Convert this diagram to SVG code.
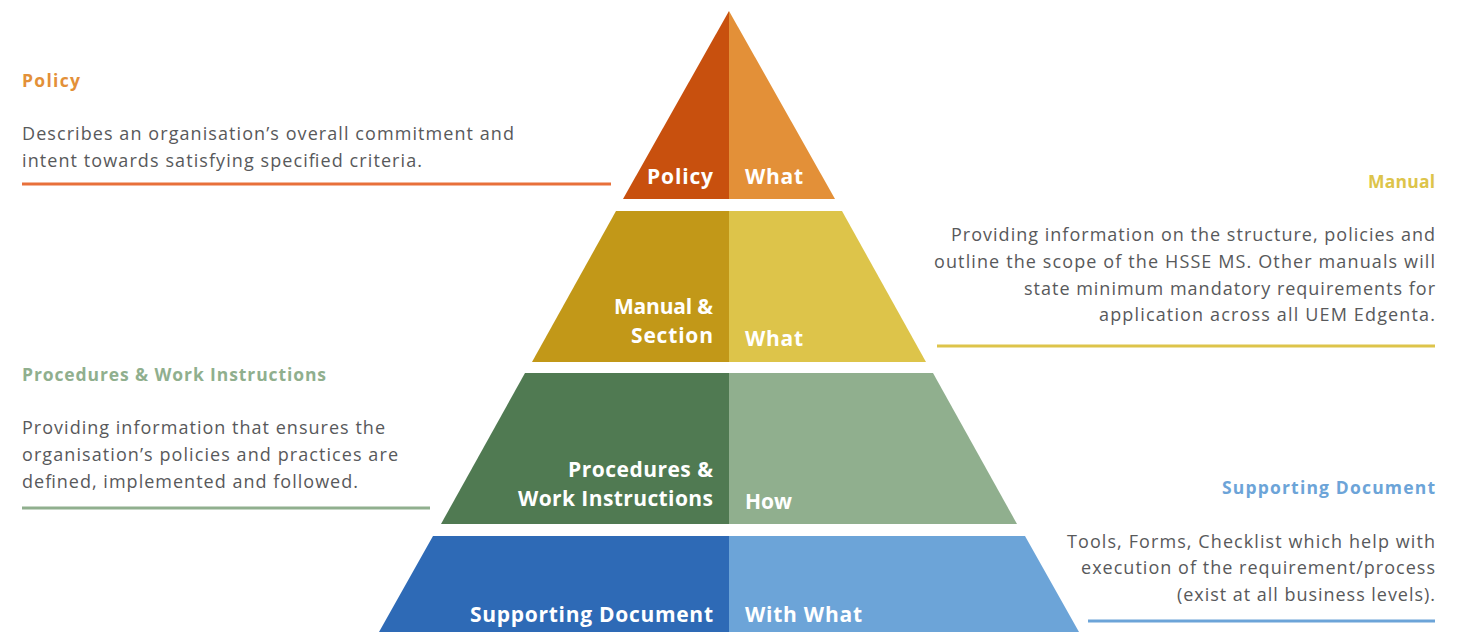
<svg xmlns="http://www.w3.org/2000/svg" width="1465" height="632" viewBox="0 0 1465 632">
<style>
.lbl{font-family:"Open Sans","Liberation Sans",sans-serif;font-weight:700;font-size:21px;fill:#ffffff}
.r{text-anchor:end}
.head{font-family:"Open Sans","Liberation Sans",sans-serif;font-weight:700;font-size:17.5px}
.body{font-family:"Open Sans","Liberation Sans",sans-serif;font-size:18px;fill:#58595b}
.rule{stroke-width:3;fill:none}
</style>
<rect width="1465" height="632" fill="#ffffff"/>
<g id="tier-policy">
<polygon points="729,11 623,199 729,199" fill="#C8500E"/>
<polygon points="729,11 835,199 729,199" fill="#E39038"/>
<text class="lbl r" x="713" y="184" textLength="66">Policy</text>
<text class="lbl" x="745" y="184" textLength="58">What</text>
</g>
<g id="tier-manual">
<polygon points="616,211 729,211 729,362 532,362" fill="#C29818"/>
<polygon points="729,211 842,211 926,362 729,362" fill="#DDC44A"/>
<text class="lbl r" x="713" y="314" textLength="99">Manual &amp;</text>
<text class="lbl r" x="713" y="343" textLength="82">Section</text>
<text class="lbl" x="745" y="346" textLength="58">What</text>
</g>
<g id="tier-procedures">
<polygon points="525,373 729,373 729,524 441,524" fill="#507A52"/>
<polygon points="729,373 933,373 1017,524 729,524" fill="#90AF8E"/>
<text class="lbl r" x="713" y="477" textLength="145">Procedures &amp;</text>
<text class="lbl r" x="713" y="506" textLength="195">Work Instructions</text>
<text class="lbl" x="745" y="509" textLength="47">How</text>
</g>
<g id="tier-supporting">
<polygon points="433,536 729,536 729,632 379,632" fill="#2E6AB6"/>
<polygon points="729,536 1025,536 1079,632 729,632" fill="#6CA4D8"/>
<text class="lbl r" x="713" y="622" textLength="243">Supporting Document</text>
<text class="lbl" x="745" y="622" textLength="117">With What</text>
</g>
<g id="desc-policy">
<text class="head" x="22" y="87" fill="#E39038" textLength="58">Policy</text>
<text class="body" x="22" y="140" textLength="492">Describes an organisation’s overall commitment and</text>
<text class="body" x="22" y="167" textLength="400">intent towards satisfying specified criteria.</text>
</g>
<g id="desc-manual">
<text class="head r" x="1435" y="188" fill="#DDC44A" textLength="67">Manual</text>
<text class="body r" x="1435" y="241" textLength="484">Providing information on the structure, policies and</text>
<text class="body r" x="1435" y="268" textLength="501">outline the scope of the HSSE MS. Other manuals will</text>
<text class="body r" x="1435" y="295" textLength="411">state minimum mandatory requirements for</text>
<text class="body r" x="1435" y="321" textLength="336">application across all UEM Edgenta.</text>
</g>
<g id="desc-procedures">
<text class="head" x="22" y="381" fill="#90AF8E" textLength="304">Procedures &amp; Work Instructions</text>
<text class="body" x="22" y="434" textLength="363">Providing information that ensures the</text>
<text class="body" x="22" y="461" textLength="376">organisation’s policies and practices are</text>
<text class="body" x="22" y="488" textLength="336">defined, implemented and followed.</text>
</g>
<g id="desc-supporting">
<text class="head r" x="1435" y="494" fill="#6CA4D8" textLength="213">Supporting Document</text>
<text class="body r" x="1435" y="548" textLength="368">Tools, Forms, Checklist which help with</text>
<text class="body r" x="1435" y="574" textLength="354">execution of the requirement/process</text>
<text class="body r" x="1435" y="601" textLength="258">(exist at all business levels).</text>
</g>
<g id="connectors">
<line class="rule" x1="22" y1="184" x2="611" y2="184" stroke="#E8703A"/>
<line class="rule" x1="937" y1="346" x2="1435" y2="346" stroke="#DDC44A"/>
<line class="rule" x1="22" y1="508" x2="430" y2="508" stroke="#90AF8E"/>
<line class="rule" x1="1088" y1="621" x2="1435" y2="621" stroke="#6CA4D8"/>
</g>
</svg>
